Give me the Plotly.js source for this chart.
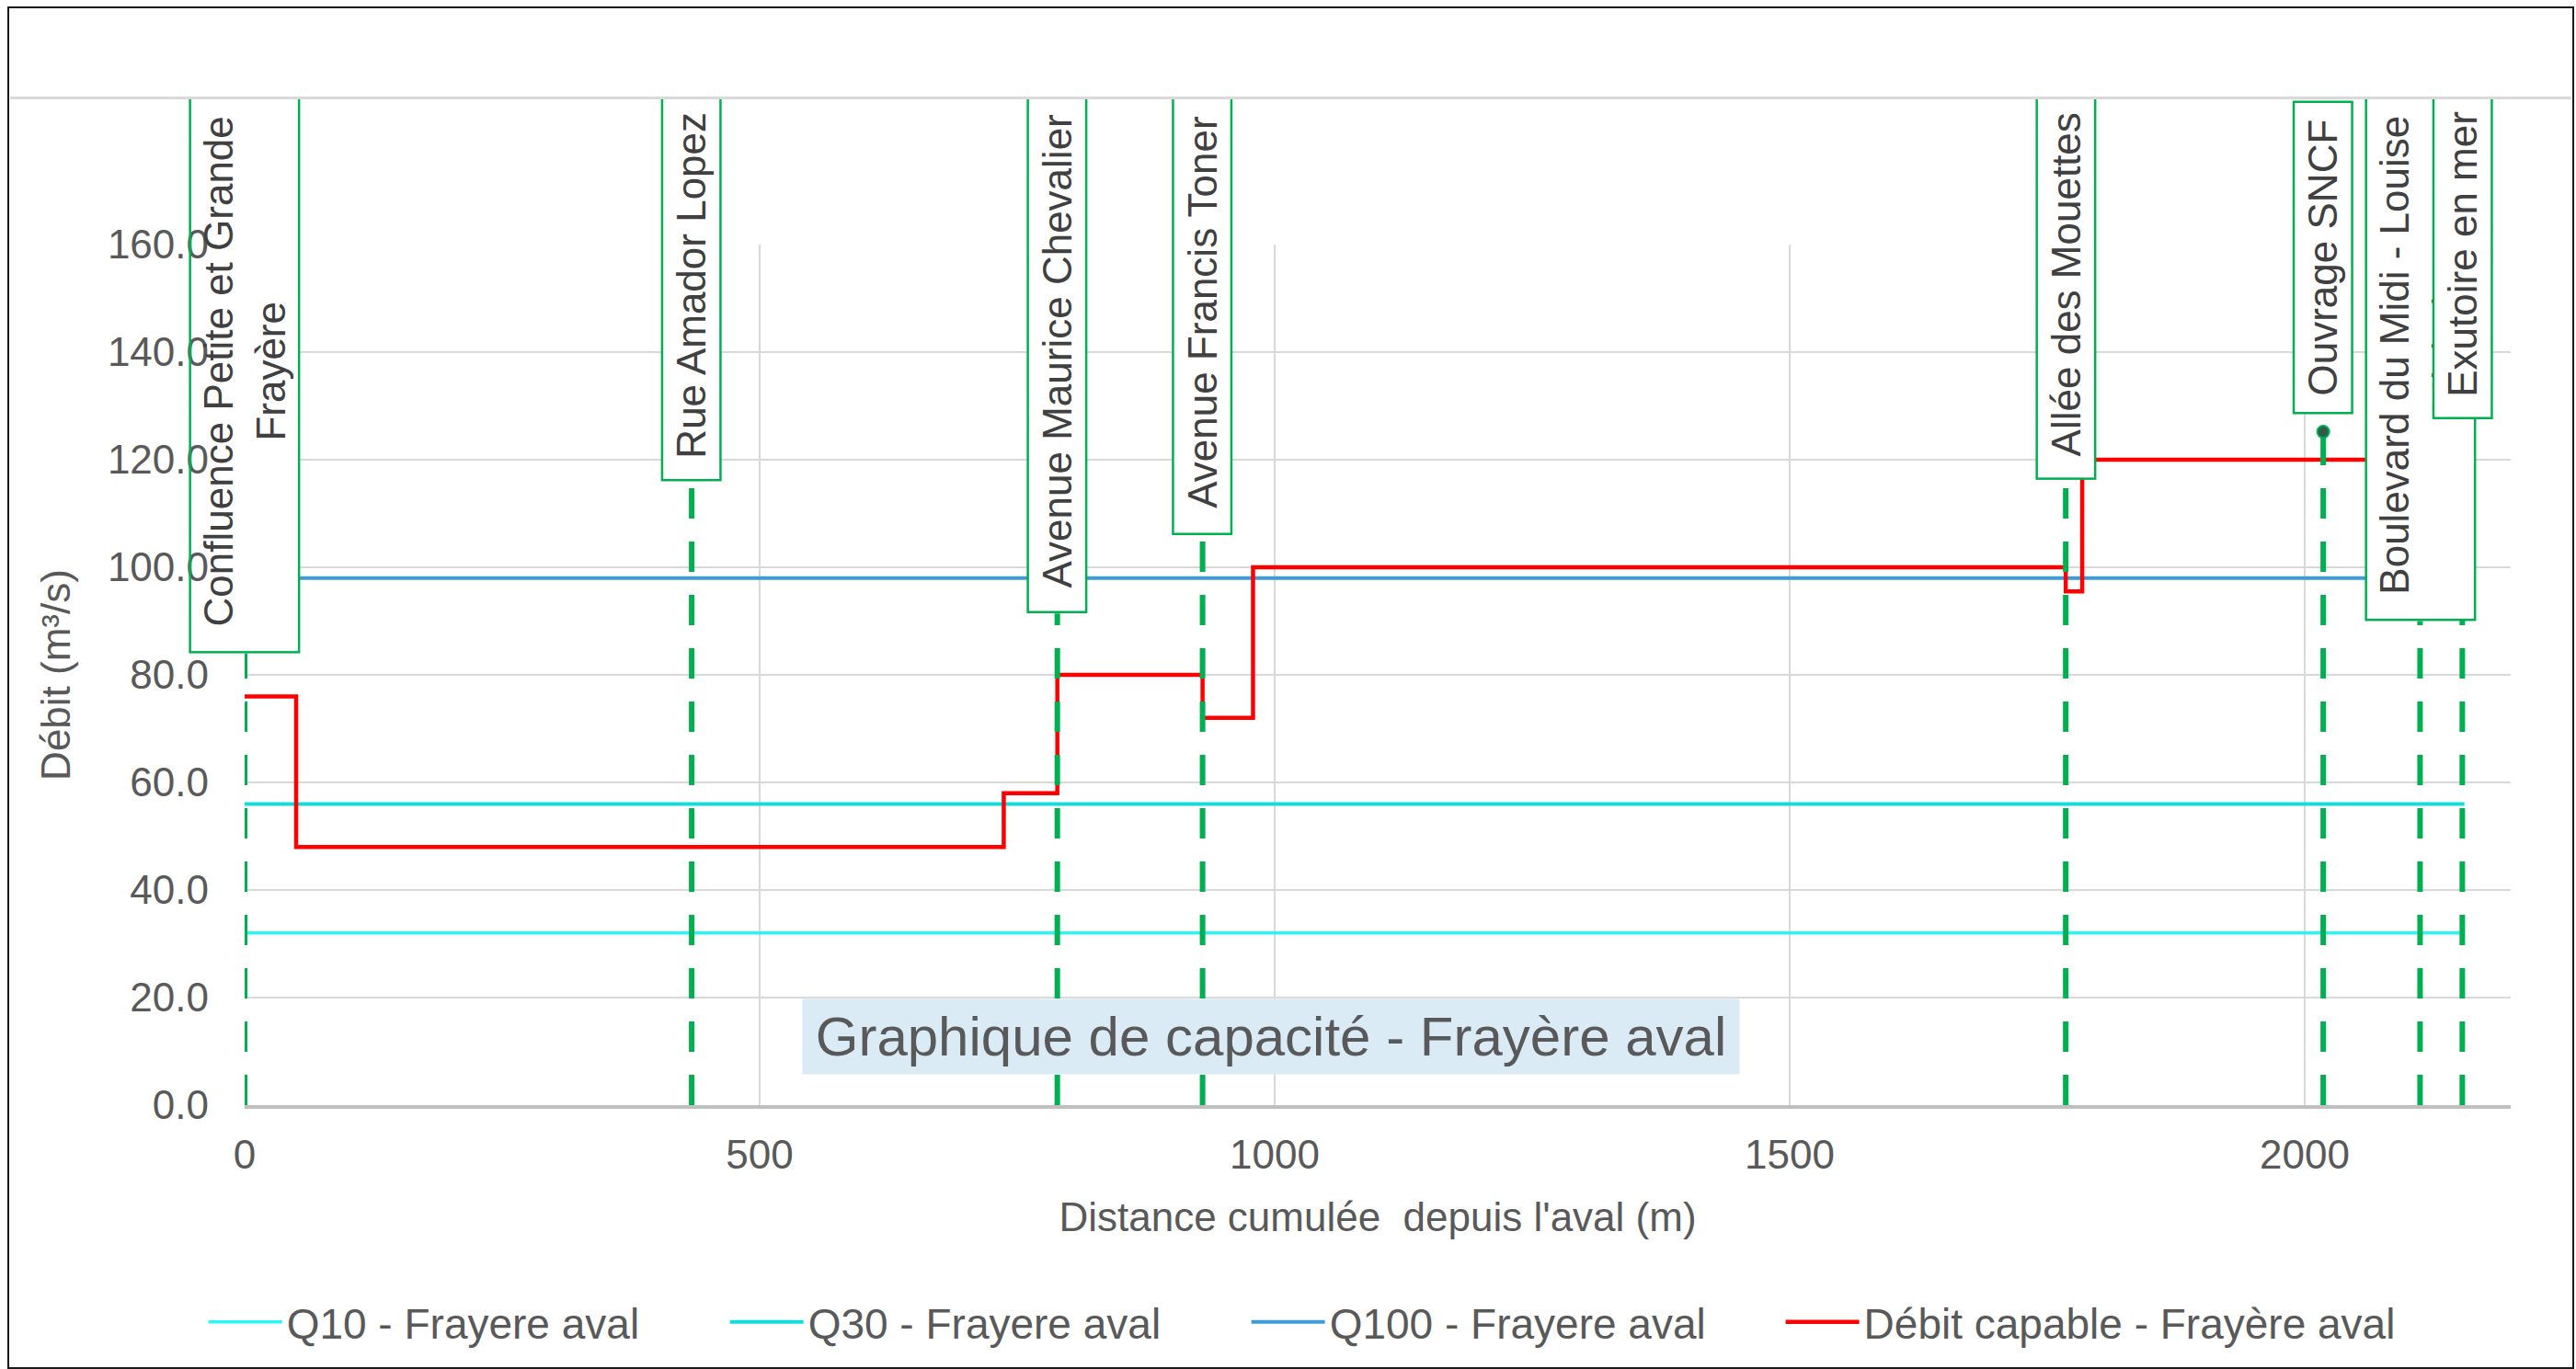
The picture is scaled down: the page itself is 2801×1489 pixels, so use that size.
<!DOCTYPE html>
<html>
<head>
<meta charset="utf-8">
<script src="https://cdn.plot.ly/plotly-3.0.1.min.js"></script>
<style>
  html, body { margin: 0; padding: 0; background: #ffffff; }
  #wrap { position: relative; width: 2801px; height: 1489px; }
  #chart { position: absolute; left: 0; top: 0; width: 2801px; height: 1489px; }
  #topcut { position: absolute; left: 11px; top: 9px; width: 2785px; height: 96px;
            background: #ffffff; border-bottom: 3px solid #D9D9D9; pointer-events: none; }
  #frame { position: absolute; left: 8px; top: 7px; width: 2787px; height: 1478px;
           border: 2.5px solid #1a1a1a; pointer-events: none; }
</style>
</head>
<body>
<div id="wrap">
  <div id="chart"></div>
  <div id="topcut"></div>
  <div id="frame"></div>
</div>
<script>
// ---------------- data ----------------
const seriesX = [0, 2155];
const q10 = [32, 32];
const q30 = [56, 56];
const q100 = [98, 98];

const capX = [0, 50, 737, 789, 930, 979, 1768, 1784, 2155];
const capY = [76, 48, 58, 80, 72, 100, 95.5, 120, 120];

const stationNames = [
  "Confluence Petite et Grande<br>Frayère",
  "Rue Amador Lopez",
  "Avenue Maurice Chevalier",
  "Avenue Francis Toner",
  "Allée des Mouettes",
  "Ouvrage SNCF",
  "Boulevard du Midi - Louise<br>Michel",
  "Exutoire en mer"
];
const stationX = [0, 434, 789, 930, 1768, 2018, 2112, 2153];
const stationTop = [84, 116, 91.4, 106, 116.2, 125.2, 90, 127.5];
const stationLabelBase = [84, 116, 91.4, 106, 116.2, 128.4, 90, 127.5];

const xTicks = [0, 500, 1000, 1500, 2000];
const yTicks = [0, 20, 40, 60, 80, 100, 120, 140, 160];

const legendNames = ["Q10 - Frayere aval", "Q30 - Frayere aval", "Q100 - Frayere aval", "Débit capable - Frayère aval"];
const chartTitle = "Graphique de capacité - Frayère aval";
const xTitle = "Distance cumulée  depuis l'aval (m)";
const yTitle = "Débit (m³/s)";

// ---------------- layout constants ----------------
const FONT = "Liberation Sans, Arial, sans-serif";
const GREY = "#595959";
const GREEN = "#00B050";
const M = { l: 266, r: 71, t: 266, b: 287 };
const Y_RANGE = [0, 160];
const PLOT_H = 1489 - M.t - M.b;
const PX_PER_UNIT = PLOT_H / (Y_RANGE[1] - Y_RANGE[0]);
const CUT_PAPER = (1202 - 105) / PLOT_H;       // top cut line, paper units
const CUT_VALUE = Y_RANGE[0] + CUT_PAPER * (Y_RANGE[1] - Y_RANGE[0]);
const BW = 2.5, BP = 3;

// ---------------- traces ----------------
const traces = [
  { x: seriesX, y: q10, name: legendNames[0], mode: "lines", line: { color: "#2CF5F5", width: 3.5 }, legend: "legend" },
  { x: seriesX, y: q30, name: legendNames[1], mode: "lines", line: { color: "#12DCDC", width: 4 }, legend: "legend" },
  { x: seriesX, y: q100, name: legendNames[2], mode: "lines", line: { color: "#3D9BD8", width: 4 }, legend: "legend" },
  { x: capX, y: capY, name: legendNames[3], mode: "lines", line: { color: "#FF0000", width: 4.5, shape: "hv" }, legend: "legend2" }
];

// dashed station lines
const dashX = [], dashY = [];
stationX.forEach((sx, i) => { dashX.push(sx, sx, null); dashY.push(0, stationTop[i], null); });
traces.push({
  x: dashX, y: dashY, mode: "lines", showlegend: false, hoverinfo: "skip",
  line: { color: GREEN, width: 6, dash: "33px,25px" }
});

// visible point markers (where the label sits above the point)
const mkX = [], mkY = [];
stationX.forEach((sx, i) => { if (stationLabelBase[i] > stationTop[i]) { mkX.push(sx); mkY.push(stationTop[i]); } });
traces.push({
  x: mkX, y: mkY, mode: "markers", showlegend: false, hoverinfo: "skip",
  marker: { size: 13, color: "#2E5B4C", line: { color: GREEN, width: 2 } }
});

// ---------------- annotations ----------------
const annotations = stationNames.map((name, i) => {
  const lines = name.split("<br>").length;
  const hasGap = stationLabelBase[i] > stationTop[i];
  const overshoot = hasGap ? -5 : 8;
  const len = (CUT_VALUE - stationLabelBase[i]) * PX_PER_UNIT - 2 * (BW + BP) + overshoot;
  return {
    x: stationX[i], y: stationLabelBase[i], xref: "x", yref: "y",
    text: name, textangle: -90, showarrow: false,
    xanchor: "center", yanchor: "bottom",
    width: len, height: lines === 1 ? 55 : 110,
    font: { family: FONT, size: 44, color: "#404040" },
    bgcolor: i === 0 ? "rgba(255,255,255,0)" : "#ffffff",
    bordercolor: GREEN, borderwidth: BW, borderpad: BP
  };
});

annotations.push({
  xref: "paper", yref: "paper", x: 0.4529, y: 0.0796,
  xanchor: "center", yanchor: "middle", showarrow: false,
  text: chartTitle, font: { family: FONT, size: 60, color: GREY },
  bgcolor: "#DAEBF5", width: 1008, height: 71, borderpad: 5
});

// white fill of the first (transparent) label box, inside the plot area only
const shapes = [{
  type: "rect", xref: "x", yref: "y", xsizemode: "pixel", xanchor: stationX[0],
  x0: 0, x1: 59, y0: stationLabelBase[0], y1: Y_RANGE[1] + 5,
  fillcolor: "#ffffff", line: { width: 0 }, layer: "above"
}];

const legendCommon = {
  orientation: "h", xanchor: "left", yanchor: "middle", y: -0.252,
  font: { family: FONT, size: 46, color: GREY }, itemwidth: 80,
  traceorder: "normal", bgcolor: "rgba(0,0,0,0)"
};

const layout = {
  width: 2801, height: 1489,
  margin: M,
  paper_bgcolor: "#ffffff", plot_bgcolor: "#ffffff",
  font: { family: FONT, color: GREY, size: 44 },
  showlegend: true,
  legend: Object.assign({}, legendCommon, { x: -0.018, entrywidth: 472, entrywidthmode: "pixels" }),
  legend2: Object.assign({}, legendCommon, { x: 0.678 }),
  xaxis: {
    range: [0, 2200], tickmode: "array", tickvals: xTicks,
    showgrid: true, gridcolor: "#D9D9D9", gridwidth: 2.5,
    zeroline: false, showline: true, linecolor: "#BFBFBF", linewidth: 4,
    ticks: "", ticklabelstandoff: 12,
    tickfont: { family: FONT, size: 44, color: GREY },
    title: { text: xTitle, font: { family: FONT, size: 44, color: GREY }, standoff: 30 }
  },
  yaxis: {
    range: Y_RANGE, tickmode: "array", tickvals: yTicks, tickformat: ".1f",
    showgrid: true, gridcolor: "#D9D9D9", gridwidth: 2.5,
    zeroline: false, showline: false, ticks: "", ticklabelstandoff: 38,
    tickfont: { family: FONT, size: 44, color: GREY },
    title: { text: yTitle, font: { family: FONT, size: 44, color: GREY }, standoff: 26 }
  },
  annotations: annotations,
  shapes: shapes
};

Plotly.newPlot("chart", traces, layout, { displayModeBar: false, staticPlot: true });
</script>
</body>
</html>
